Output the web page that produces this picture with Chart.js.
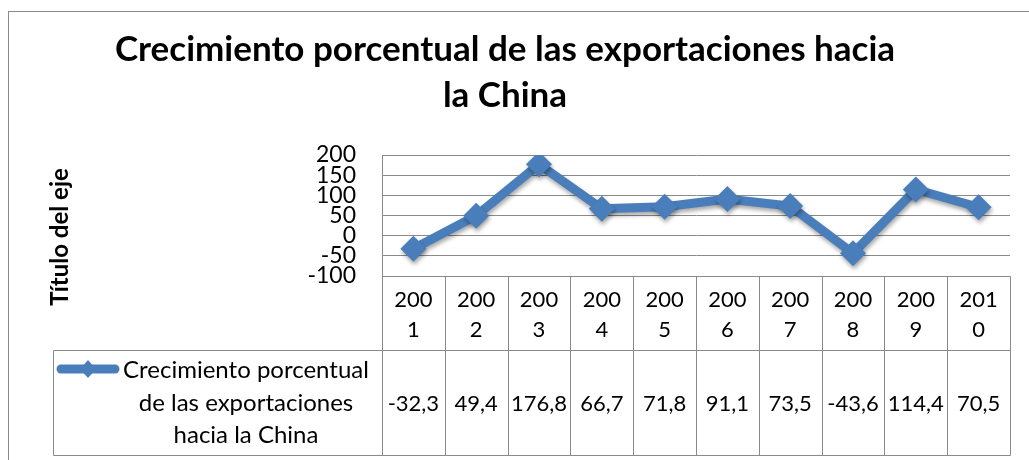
<!DOCTYPE html>
<html>
<head>
<meta charset="utf-8">
<script src="https://cdn.jsdelivr.net/npm/chart.js@4/dist/chart.umd.min.js"></script>
<style>
  html, body { margin: 0; padding: 0; background: #fff; }
  canvas { display: block; }
</style>
</head>
<body>
<canvas id="growthChart" width="1029" height="460"></canvas>
<script>
const years = ['2001', '2002', '2003', '2004', '2005', '2006', '2007', '2008', '2009', '2010'];
const growth = [-32.3, 49.4, 176.8, 66.7, 71.8, 91.1, 73.5, -43.6, 114.4, 70.5];
const seriesName = 'Crecimiento porcentual de las exportaciones hacia la China';
const seriesLines = ['Crecimiento porcentual', 'de las exportaciones', 'hacia la China'];
const titleLines = ['Crecimiento porcentual de las exportaciones hacia', 'la China'];
const axisTitle = 'Título del eje';

const blue = '#4a7ebb';
const grey = '#8a8a8a';
const font = 'Lato, "Open Sans", sans-serif';

// table geometry (below the plot)
const headerBottom = 350;
const tableBottom = 455;
const legendLeft = 53;

function fmt(v) {
    return String(v).replace('.', ',');
}

// Excel-like frame, axis title and data table
const tablePlugin = {
    id: 'dataTable',
    beforeDraw(chart) {
        const ctx = chart.ctx;
        ctx.save();
        ctx.strokeStyle = grey;
        ctx.lineWidth = 1;
        ctx.strokeRect(8.5, 11.5, 1100, 600);
        ctx.restore();
    },
    beforeDatasetsDraw(chart) {
        const ctx = chart.ctx;
        ctx.save();
        ctx.shadowColor = 'rgba(0,0,0,0.35)';
        ctx.shadowBlur = 4;
        ctx.shadowOffsetX = 1;
        ctx.shadowOffsetY = 3;
    },
    afterDatasetsDraw(chart) {
        chart.ctx.restore();
    },
    afterDraw(chart) {
        const ctx = chart.ctx;
        const area = chart.chartArea;
        const x = chart.scales.x;
        const half = (x.getPixelForValue(1) - x.getPixelForValue(0)) / 2;
        const top = Math.round(area.bottom) + 0.5;
        const right = Math.round(area.right) + 0.5;
        const left = Math.round(area.left) + 0.5;

        ctx.save();
        ctx.strokeStyle = grey;
        ctx.lineWidth = 1;
        ctx.beginPath();
        // header row
        ctx.moveTo(left, top); ctx.lineTo(right, top);
        ctx.moveTo(legendLeft + 0.5, headerBottom + 0.5); ctx.lineTo(right, headerBottom + 0.5);
        ctx.moveTo(legendLeft + 0.5, tableBottom + 0.5); ctx.lineTo(right, tableBottom + 0.5);
        ctx.moveTo(legendLeft + 0.5, headerBottom + 0.5); ctx.lineTo(legendLeft + 0.5, tableBottom + 0.5);
        ctx.moveTo(left, top); ctx.lineTo(left, tableBottom + 0.5);
        years.forEach((y, i) => {
            const bx = Math.round(x.getPixelForValue(i) + half) + 0.5;
            ctx.moveTo(bx, top);
            ctx.lineTo(bx, tableBottom + 0.5);
        });
        ctx.stroke();

        ctx.fillStyle = '#000';
        ctx.textAlign = 'center';
        ctx.textBaseline = 'middle';
        ctx.font = '22px ' + font;
        years.forEach((y, i) => {
            const cx = x.getPixelForValue(i);
            ctx.fillText(y.slice(0, 3), cx, 300);
            ctx.fillText(y.slice(3), cx, 330);
            ctx.fillText(fmt(growth[i]), cx, 404);
        });

        // legend key
        ctx.strokeStyle = blue;
        ctx.lineWidth = 9;
        ctx.lineCap = 'round';
        ctx.beginPath();
        ctx.moveTo(61, 369);
        ctx.lineTo(115, 369);
        ctx.stroke();
        ctx.fillStyle = blue;
        ctx.beginPath();
        ctx.moveTo(88, 360); ctx.lineTo(96, 369); ctx.lineTo(88, 378); ctx.lineTo(80, 369);
        ctx.closePath();
        ctx.fill();

        ctx.fillStyle = '#000';
        ctx.font = '24px ' + font;
        ctx.fillText(seriesLines[0], 246, 370);
        ctx.fillText(seriesLines[1], 246, 403);
        ctx.fillText(seriesLines[2], 246, 435);

        // axis title
        ctx.translate(60, 237);
        ctx.rotate(-Math.PI / 2);
        ctx.font = 'bold 24px ' + font;
        ctx.fillText(axisTitle, 0, 0);
        ctx.restore();
    }
};

new Chart(document.getElementById('growthChart'), {
    type: 'line',
    data: {
        labels: years,
        datasets: [{
            label: seriesName,
            data: growth,
            borderColor: blue,
            backgroundColor: blue,
            borderWidth: 9,
            pointStyle: 'rectRot',
            pointRadius: 13,
            pointHoverRadius: 13,
            pointBorderWidth: 0,
            tension: 0
        }]
    },
    options: {
        responsive: false,
        animation: false,
        events: [],
        layout: {padding: {top: 0, right: 19, bottom: 184, left: 0}},
        plugins: {
            legend: {display: false},
            tooltip: {enabled: false},
            title: {
                display: true,
                text: titleLines,
                color: '#000',
                font: {family: font, size: 35, weight: 'bold', lineHeight: 1.3},
                padding: {top: 27, bottom: 37}
            }
        },
        scales: {
            x: {
                type: 'category',
                offset: true,
                display: false
            },
            y: {
                min: -100,
                max: 200,
                afterFit(scale) { scale.width = 382; },
                border: {display: true, color: grey, width: 1},
                grid: {color: grey, lineWidth: 1, drawTicks: false},
                ticks: {
                    stepSize: 50,
                    autoSkip: false,
                    padding: 26,
                    color: '#000',
                    font: {family: font, size: 23, lineHeight: 1},
                    callback: v => String(v)
                }
            }
        }
    },
    plugins: [tablePlugin]
});
</script>
</body>
</html>
